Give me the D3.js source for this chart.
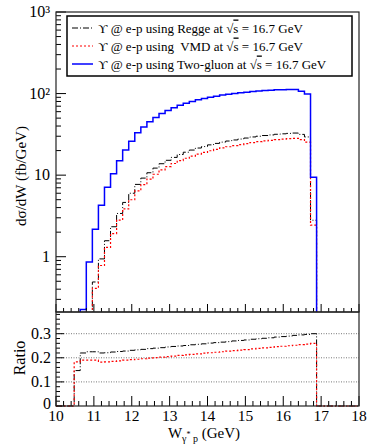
<!DOCTYPE html>
<html>
<head>
<meta charset="utf-8">
<script src="https://cdn.jsdelivr.net/npm/d3@7"></script>
<style>
  body { margin: 0; background: #fff; }
</style>
</head>
<body>
<div id="chart"></div>
<script>
// histogram binning: 50 bins from 10 to 18 GeV
var binStart = 10, binWidth = 0.16;

// d sigma / dW (fb/GeV), one value per bin
var twoGluon = [0,0,0,0,0.226,0.86,2.17,4.27,7.1,10.4,15.0,20.3,26,33,39,45,51,57,62,67,72,76,80,84,87,90,93,96,98,100,102,104,106,107.5,109,110,111,111.5,112,112,107,99,9.4,0,0,0,0,0,0,0];
var regge    = [0,0,0,0,0.05,0.19,0.49,0.94,1.57,2.33,3.39,4.63,6.0,7.7,9.2,10.7,12.2,13.8,15.2,16.5,17.9,19.1,20.3,21.5,22.4,23.5,24.5,25.4,26.2,27.0,27.7,28.5,29.4,30.0,30.6,31.1,31.7,32.1,32.5,32.8,31.6,29.4,2.8,0,0,0,0,0,0,0];
var vmd      = [0,0,0,0,0.043,0.16,0.41,0.78,1.30,1.92,2.81,3.86,4.99,6.4,7.64,8.96,10.25,11.6,12.7,13.9,15.1,16.1,17.1,18.1,19.0,19.9,20.7,21.6,22.3,23.0,23.7,24.3,25.1,25.7,26.3,26.7,27.3,27.7,28.0,28.2,27.3,25.4,2.44,0,0,0,0,0,0,0];

// ratio panel (model / two-gluon)
var ratioRegge = [0,0,0,0.147,0.22,0.225,0.225,0.22,0.221,0.224,0.226,0.228,0.231,0.233,0.235,0.238,0.240,0.242,0.245,0.247,0.249,0.251,0.254,0.256,0.258,0.261,0.263,0.265,0.267,0.270,0.272,0.274,0.277,0.279,0.281,0.283,0.286,0.288,0.290,0.293,0.295,0.297,0.300,0,0,0,0,0,0,0];
var ratioVmd   = [0,0,0,0.183,0.19,0.19,0.19,0.182,0.183,0.185,0.187,0.190,0.192,0.194,0.196,0.199,0.201,0.203,0.205,0.207,0.210,0.212,0.214,0.216,0.219,0.221,0.223,0.225,0.228,0.230,0.232,0.234,0.237,0.239,0.241,0.243,0.246,0.248,0.250,0.252,0.255,0.257,0.260,0,0,0,0,0,0,0];

var xTicks = [10,11,12,13,14,15,16,17,18];
var yMajor = [1,10,100,1000];
var yMajorLabels = ["1","10","10\u00B2","10\u00B3"];
var ratioTicks = [0,0.1,0.2,0.3];
var ratioLabels = ["0","0.1","0.2","0.3"];

var legendItems = [
  {pre: "\u03D2 @ e-p using Regge at ", color: "#000", dash: "6,2,1,2", width: 1},
  {pre: "\u03D2 @ e-p using  VMD at ", color: "#ff0000", dash: "2,2", width: 1.2},
  {pre: "\u03D2 @ e-p using Two-gluon at ", color: "#0000ff", dash: null, width: 1.5}
];

var W = 374, H = 447;
var L = 56, R = 359, T = 12, M = 312, B = 406;
var serif = "Liberation Serif, DejaVu Serif, serif";

var svg = d3.select("#chart").append("svg")
  .attr("width", W).attr("height", H)
  .style("font-family", serif);

var x = d3.scaleLinear().domain([10, 18]).range([L, R]);
var y = d3.scaleLog().domain([0.21, 1000]).range([M, T]);
var yr = d3.scaleLinear().domain([0, 0.39]).range([B, M]);

var edges = d3.range(twoGluon.length + 1).map(function(i){ return binStart + binWidth * i; });

// clip paths
var defs = svg.append("defs");
defs.append("clipPath").attr("id", "clipMain").append("rect")
  .attr("x", L).attr("y", T).attr("width", R - L).attr("height", M - T);
defs.append("clipPath").attr("id", "clipRatio").append("rect")
  .attr("x", L).attr("y", M).attr("width", R - L).attr("height", B - M + 1);

function stepPath(vals, ys, floor){
  var p = "";
  vals.forEach(function(v, i){
    var yy = ys(Math.max(v, floor));
    p += (i === 0 ? "M" : "L") + x(edges[i]) + "," + yy + "L" + x(edges[i+1]) + "," + yy;
  });
  return p;
}

// ratio gridlines
svg.append("g").selectAll("line").data([0.1,0.2,0.3]).enter().append("line")
  .attr("x1", L).attr("x2", R)
  .attr("y1", function(d){ return yr(d); }).attr("y2", function(d){ return yr(d); })
  .attr("stroke", "#555").attr("stroke-width", 0.8).attr("stroke-dasharray", "1,1.5");

// main histograms
var gMain = svg.append("g").attr("clip-path", "url(#clipMain)");
[[regge, legendItems[0]], [vmd, legendItems[1]], [twoGluon, legendItems[2]]].forEach(function(s){
  gMain.append("path")
    .attr("d", stepPath(s[0], y, 1e-3))
    .attr("fill", "none")
    .attr("stroke", s[1].color)
    .attr("stroke-width", s[1].width)
    .attr("stroke-dasharray", s[1].dash);
});

// ratio histograms
var gRatio = svg.append("g").attr("clip-path", "url(#clipRatio)");
[[ratioRegge, legendItems[0]], [ratioVmd, legendItems[1]]].forEach(function(s){
  gRatio.append("path")
    .attr("d", stepPath(s[0], yr, 0))
    .attr("fill", "none")
    .attr("stroke", s[1].color)
    .attr("stroke-width", s[1].width)
    .attr("stroke-dasharray", s[1].dash);
});

// ticks
var ticks = svg.append("g").attr("stroke", "#000").attr("stroke-width", 1);
var minorX = d3.range(0, 41).map(function(i){ return 10 + 0.2 * i; });
minorX.forEach(function(v){
  var major = Math.abs(v - Math.round(v)) < 1e-6;
  // bottom of main panel
  ticks.append("line").attr("x1", x(v)).attr("x2", x(v))
    .attr("y1", M).attr("y2", M - (major ? 8 : 4));
  // bottom of ratio panel
  ticks.append("line").attr("x1", x(v)).attr("x2", x(v))
    .attr("y1", B).attr("y2", B - (major ? 10 : 5));
});
yMajor.forEach(function(d){
  ticks.append("line").attr("x1", L).attr("x2", L + 10)
    .attr("y1", y(d)).attr("y2", y(d));
  if (d < 1000) {
    for (var k = 2; k <= 9; k++) {
      ticks.append("line").attr("x1", L).attr("x2", L + 5)
        .attr("y1", y(d * k)).attr("y2", y(d * k));
    }
  }
});
for (var k = 3; k <= 9; k++) {
  ticks.append("line").attr("x1", L).attr("x2", L + 5)
    .attr("y1", y(k / 10)).attr("y2", y(k / 10));
}
d3.range(0, 20).forEach(function(i){
  var v = i * 0.02;
  if (v > 0.39) return;
  var major = i % 5 === 0;
  ticks.append("line").attr("x1", L).attr("x2", L + (major ? 8 : 4))
    .attr("y1", yr(v)).attr("y2", yr(v));
});

// frames
svg.append("rect").attr("x", L).attr("y", T).attr("width", R - L).attr("height", M - T)
  .attr("fill", "none").attr("stroke", "#222").attr("stroke-width", 1.2);
svg.append("rect").attr("x", L).attr("y", M).attr("width", R - L).attr("height", B - M)
  .attr("fill", "none").attr("stroke", "#222").attr("stroke-width", 1.2);

// tick labels
svg.append("g").selectAll("text").data(xTicks).enter().append("text")
  .attr("x", function(d){ return x(d); }).attr("y", 421)
  .attr("text-anchor", "middle").attr("font-size", 15.5)
  .text(function(d){ return d; });

svg.append("g").selectAll("text").data(yMajor).enter().append("text")
  .attr("x", 50).attr("y", function(d){ return y(d) + 5; })
  .attr("text-anchor", "end").attr("font-size", 16)
  .text(function(d, i){ return yMajorLabels[i]; });

svg.append("g").selectAll("text").data(ratioTicks).enter().append("text")
  .attr("x", 51).attr("y", function(d){ return yr(d) + (d === 0 ? 3 : 5); })
  .attr("text-anchor", "end").attr("font-size", 16)
  .text(function(d, i){ return ratioLabels[i]; });

// axis titles
svg.append("text").attr("transform", "translate(26,176) rotate(-90)")
  .attr("text-anchor", "middle").attr("font-size", 15)
  .text("d\u03C3/dW (fb/GeV)");
svg.append("text").attr("transform", "translate(25,358) rotate(-90)")
  .attr("text-anchor", "middle").attr("font-size", 16)
  .text("Ratio");

var xt = svg.append("text").attr("x", 204).attr("y", 438)
  .attr("text-anchor", "middle").attr("font-size", 15);
xt.append("tspan").text("W");
xt.append("tspan").attr("font-size", 10).attr("dy", 4).text("\u03B3");
xt.append("tspan").attr("font-size", 8).attr("dy", -5).text("*");
xt.append("tspan").attr("font-size", 10).attr("dy", 5).text(" p");
xt.append("tspan").attr("dy", -4).text(" (GeV)");

// legend
var lg = svg.append("g");
lg.append("rect").attr("x", 67).attr("y", 16).attr("width", 285).attr("height", 60)
  .attr("fill", "#fff").attr("stroke", "#000").attr("stroke-width", 1.5);
legendItems.forEach(function(d, i){
  var yy = 28 + i * 18;
  lg.append("line").attr("x1", 72).attr("x2", 93).attr("y1", yy).attr("y2", yy)
    .attr("stroke", d.color).attr("stroke-width", d.width).attr("stroke-dasharray", d.dash);
  var t = lg.append("text").attr("x", 98).attr("y", yy + 4.5)
    .attr("font-size", 13).style("white-space", "pre");
  t.append("tspan").text(d.pre + "\u221A");
  t.append("tspan").style("text-decoration", "overline").text("s");
  t.append("tspan").text(" = 16.7 GeV");
});
</script>
</body>
</html>
